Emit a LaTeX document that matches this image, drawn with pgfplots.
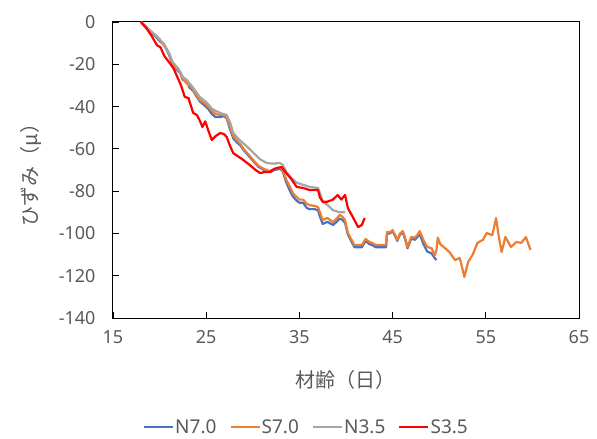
\documentclass[border=0pt]{standalone}
\usepackage{pgfplots}
\pgfplotsset{compat=1.18}
\usepackage{fontspec}
\setmainfont{Noto Sans}
\newfontfamily\jp{Noto Sans CJK JP}
\definecolor{cBlue}{HTML}{4472C4}
\definecolor{cOrange}{HTML}{ED7D31}
\definecolor{cGray}{HTML}{A5A5A5}
\definecolor{cRed}{HTML}{FF0000}
\definecolor{cText}{HTML}{595959}
\begin{document}
\begin{tikzpicture}
\path[use as bounding box] (-113pt,-121pt) rectangle (484pt,318pt);
\begin{axis}[
  at={(0,0)}, anchor=south west,
  scale only axis, width=466pt, height=296pt,
  xmin=15, xmax=65, ymin=-140, ymax=0,
  xtick={15,25,...,65},
  ytick={-140,-120,...,0},
  yticklabels={-140,-120,-100,-80,-60,-40,-20,0},
  tick align=inside, xtick pos=bottom, ytick pos=left,
  major tick length=6pt,
  tick style={black, line width=0.8pt},
  axis line style={black, line width=1pt},
  font=\fontsize{18}{21}\selectfont,
  ticklabel style={text=cText, font=\fontsize{18}{21}\selectfont},
  /pgf/number format/assume math mode=true,
  xticklabel style={yshift=-9pt},
  yticklabel style={xshift=-14pt},
  xlabel={\jp 材齢（日）},
  ylabel={\jp ひずみ（μ）},
  label style={text=cText, font=\fontsize{20}{23}\selectfont},
  xlabel style={yshift=-20pt},
  ylabel style={yshift=10pt},
  legend columns=4,
  legend style={at={(0.414,-0.368)}, anchor=center, draw=none, fill=none,
    inner sep=0pt, nodes={inner sep=1pt},
    font=\fontsize{19}{22}\selectfont, text=cText,
    /tikz/every even column/.append style={column sep=12pt}},
  legend image code/.code={\draw[#1, line width=2.2pt] (0pt,0pt) -- (29pt,0pt);},
  every axis plot/.append style={line width=2.2pt, line join=round, no markers},
]
\addplot[cBlue] coordinates {
(18.0,0) (18.5,-2.5) (19.0,-5) (19.5,-6.5) (20.0,-9) (20.4,-10.5) (20.8,-13.5) (21.1,-16.5)
(21.4,-20.5) (21.8,-22.5) (22.2,-24) (22.5,-27.5) (22.9,-27.5) (23.2,-31) (23.6,-32.5)
(24.0,-35.5) (24.3,-37.5) (24.7,-39) (25.2,-41) (25.6,-43.5) (26.0,-45) (26.5,-45)
(26.9,-44.5) (27.2,-45.5) (27.5,-50) (27.9,-55) (28.3,-57) (28.7,-58.5) (29.0,-60.5)
(29.4,-62.5) (29.8,-64.5) (30.2,-66.5) (30.6,-68.5) (30.8,-69) (31.2,-70) (31.5,-70.5)
(31.9,-71) (32.3,-70) (32.9,-69.5) (33.2,-70.5) (33.6,-76) (34.0,-80) (34.3,-82.5)
(34.7,-84.5) (35.0,-85.5) (35.4,-85.5) (35.8,-88) (36.1,-88.5) (36.6,-88.5) (37.0,-89)
(37.2,-92) (37.5,-95.5) (38.0,-94.5) (38.6,-96) (39.0,-94.5) (39.3,-93) (39.6,-93.5)
(39.9,-95) (40.2,-100.5) (40.6,-104) (40.9,-106.5) (41.3,-106.5) (41.7,-106.5) (42.1,-103.5)
(42.5,-105) (42.8,-105.5) (43.2,-106.5) (43.6,-106.5) (44.3,-106.5) (44.4,-100) (44.7,-100)
(45.0,-99) (45.3,-101.5) (45.5,-103.5) (45.8,-100.5) (46.1,-99.5) (46.4,-103.5) (46.6,-107)
(47.0,-102.5) (47.4,-103) (47.7,-101.5) (47.9,-100) (48.3,-105) (48.7,-108.5) (49.2,-109.5)
(49.5,-111.5) (49.7,-112.6)
};
\addlegendentry{N7.0}
\addplot[cOrange] coordinates {
(18.0,0) (18.5,-2) (19.0,-4.5) (19.5,-6) (20.0,-8.5) (20.4,-10) (20.8,-13) (21.1,-16)
(21.4,-20) (21.8,-22) (22.2,-23.5) (22.5,-27) (22.9,-29) (23.2,-30) (23.6,-32)
(24.0,-35) (24.3,-37) (24.7,-38) (25.2,-40) (25.6,-42) (26.0,-43.5) (26.5,-44)
(26.9,-44) (27.2,-45) (27.5,-49) (27.9,-54) (28.3,-56) (28.7,-58) (29.0,-60)
(29.4,-62) (29.8,-64) (30.2,-66) (30.6,-68) (30.8,-68.5) (31.2,-69.5) (31.5,-70)
(31.9,-70.5) (32.3,-69.5) (32.9,-69) (33.2,-70) (33.6,-74.7) (34.0,-78) (34.3,-81)
(34.7,-82.8) (35.0,-84) (35.4,-84) (35.8,-86) (36.1,-86.6) (36.6,-87) (37.0,-87.5)
(37.2,-90) (37.5,-93.7) (38.0,-92.7) (38.6,-94.6) (39.0,-93) (39.3,-91.3) (39.6,-92)
(39.9,-93.7) (40.2,-99.8) (40.6,-103) (40.9,-105.5) (41.3,-105.5) (41.7,-105.5) (42.1,-102.6)
(42.5,-104) (42.8,-104.5) (43.2,-105.5) (43.6,-105.5) (44.3,-105.5) (44.4,-99.3) (44.7,-99.5)
(45.0,-98.4) (45.3,-101) (45.5,-103) (45.8,-100) (46.1,-98.9) (46.4,-103) (46.6,-106.4)
(47.0,-101.7) (47.4,-102) (47.7,-100.5) (47.9,-98.9) (48.3,-103) (48.7,-106.4) (49.2,-107)
(49.5,-110.5) (49.7,-108) (49.85,-102) (50.1,-105) (50.5,-106.5) (51.1,-108.8) (51.7,-112.6)
(52.2,-111.6) (52.45,-116) (52.7,-120.6) (53.1,-113.5) (53.6,-110) (54.1,-104.5) (54.7,-103)
(55.1,-99.8) (55.7,-100.8) (56.1,-92.7) (56.4,-101.7) (56.7,-108.8) (57.1,-101.7) (57.7,-106.4)
(58.3,-104) (58.8,-104.5) (59.3,-101.7) (59.8,-107.8)
};
\addlegendentry{S7.0}
\addplot[cGray] coordinates {
(18.0,0) (19.0,-4) (20.0,-8) (21.0,-14.5) (21.4,-19) (22.0,-22) (22.5,-26) (22.9,-27.4)
(23.5,-30.5) (24.3,-35.4) (25.1,-38.3) (25.6,-41) (26.0,-42) (26.5,-43) (27.2,-44)
(27.6,-48) (27.9,-52.5) (28.5,-55.5) (29.4,-59) (30.1,-62) (30.8,-65) (31.5,-66.7)
(32.2,-67) (32.9,-66.7) (33.2,-67.5) (33.6,-71) (34.2,-74) (34.7,-76) (35.4,-77)
(36.1,-78) (37.0,-78.5) (37.3,-82) (37.5,-85) (38.0,-86.5) (38.6,-89) (39.3,-90) (39.9,-90)
};
\addlegendentry{N3.5}
\addplot[cRed] coordinates {
(18.0,0) (18.6,-3) (19.2,-7) (19.7,-10.9) (20.1,-12) (20.5,-16) (21.1,-19.5) (21.5,-22)
(21.9,-26) (22.3,-30) (22.7,-35.4) (23.1,-36) (23.6,-43) (24.0,-44) (24.3,-46.5)
(24.6,-49.7) (24.9,-47) (25.2,-51) (25.6,-55.8) (26.0,-54) (26.5,-52.5) (26.9,-53)
(27.2,-54.4) (27.5,-58) (27.9,-62) (28.4,-63.5) (28.9,-65) (29.4,-66.7) (29.9,-68.5)
(30.3,-70) (30.8,-71.5) (31.2,-71) (31.8,-71) (32.1,-70) (32.6,-69) (33.1,-68.6)
(33.6,-71.5) (34.2,-74.7) (34.7,-78) (35.4,-78.5) (36.1,-79.5) (37.0,-79.5) (37.2,-83)
(37.5,-85) (38.0,-85) (38.6,-84) (39.1,-81.8) (39.5,-84) (39.9,-81.8) (40.2,-88)
(40.7,-92) (41.3,-97) (41.7,-96) (42.0,-92.7)
};
\addlegendentry{S3.5}
\end{axis}
\end{tikzpicture}
\end{document}
